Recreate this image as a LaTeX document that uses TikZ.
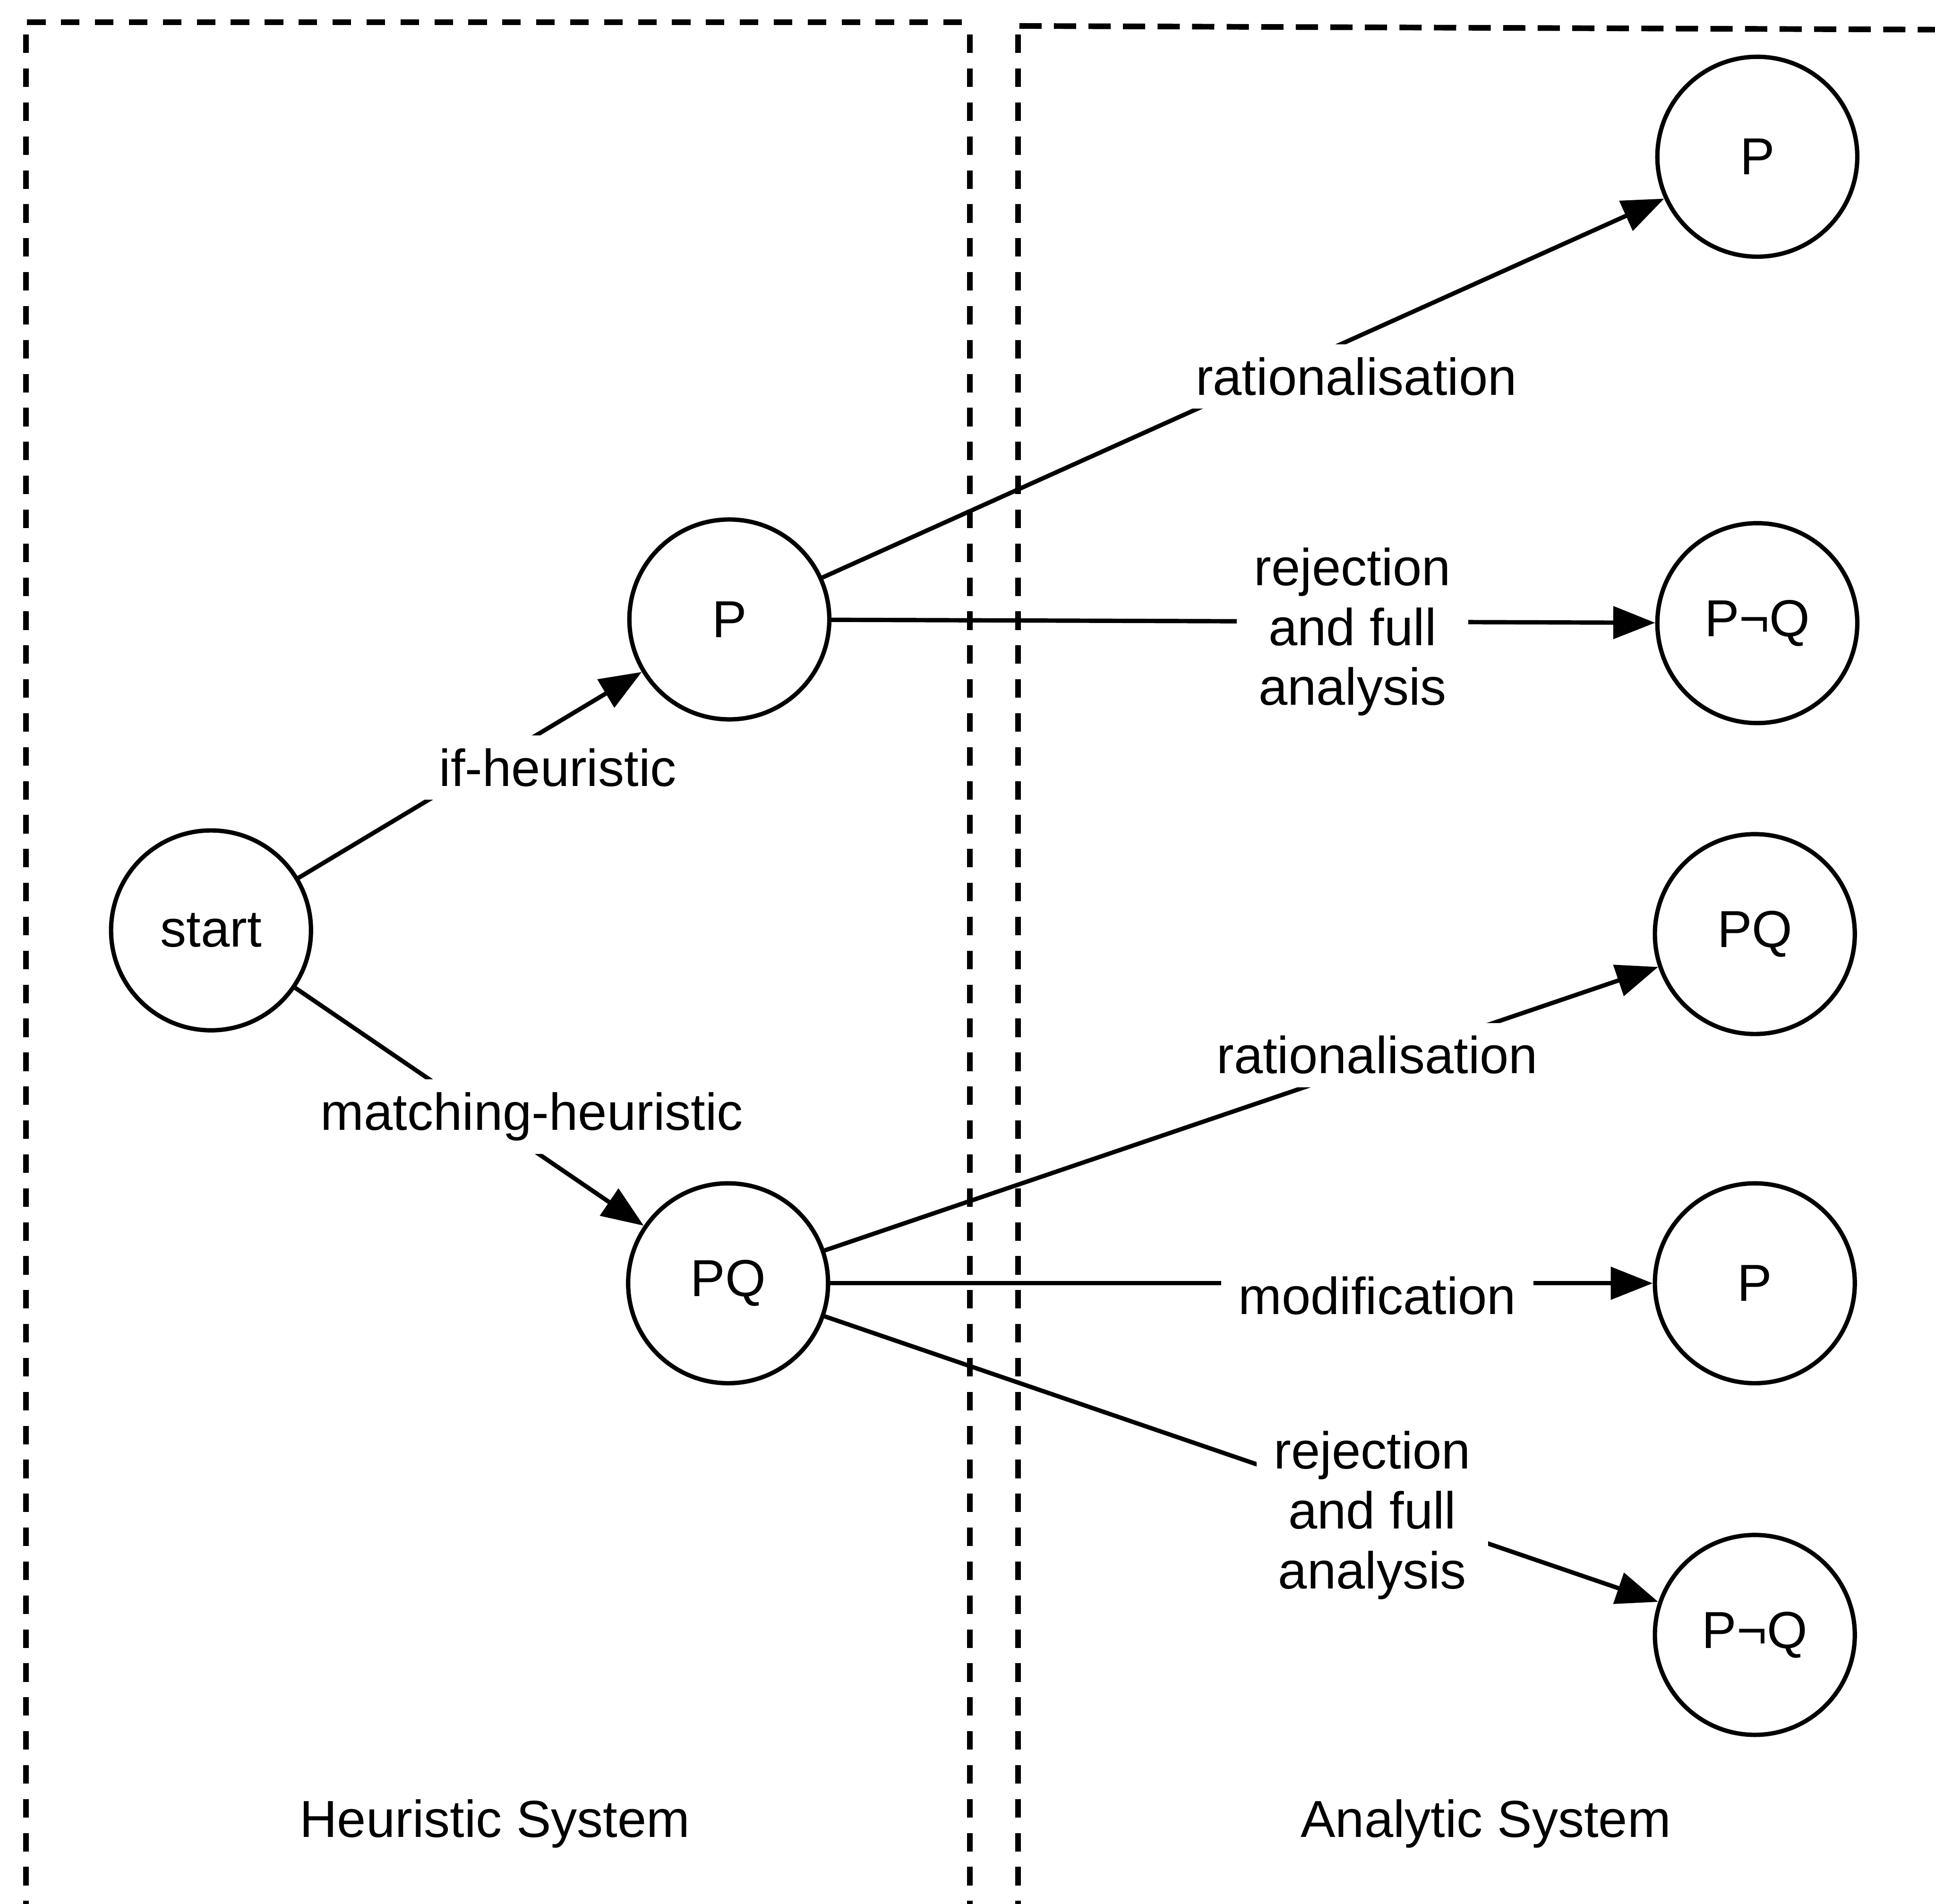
\documentclass[tikz,border=0pt]{standalone}
\usepackage{fontspec}
\setmainfont{Liberation Sans}
\usetikzlibrary{arrows.meta}
\usetikzlibrary{positioning}

\begin{document}
\begin{tikzpicture}[>={Triangle[length=3.4mm,width=2.6mm]},
        every node/.style={font=\fontsize{12}{13.8}\selectfont},
        state/.style={circle, draw, line width=1pt, minimum size=1.62cm, inner sep=0pt},
        lbl/.style={fill=white, inner sep=3pt, inner xsep=4pt, align=center},
        border/.style={line width=1.3pt, dash pattern=on 1.5mm off 1.25mm}]
        \useasboundingbox (0,0) rectangle (15.68,-15.43);

        % the two systems
        \draw[border] (0.22,-0.18) -- (7.87,-0.18);
        \draw[line width=1.3pt, dash pattern=on 1.8mm off 1mm] (8.26,-0.21) -- (15.68,-0.24);
        \foreach \x in {0.21,7.86,8.25}
        \draw[border] (\x,-0.28) -- (\x,-15.43);

        \node[state] at (1.71,-7.54) (start) {start};
        \node[state] at (5.91,-5.02) (hp) {P};
        \node[state] at (5.90,-10.40) (hpq) {PQ};

        \node[state] at (14.24,-1.27) (ap) {P};
        \node[state] at (14.24,-5.05) (apnq) {P¬Q};
        \node[state] at (14.22,-7.57) (apq) {PQ};
        \node[state] at (14.22,-10.40) (amod) {P};
        \node[state] at (14.22,-13.25) (arej) {P¬Q};

        \draw[line width=1pt,->] (start) -- (hp);
        \draw[line width=1pt,->] (start) -- (hpq);
        \draw[line width=1pt,->] (hp) -- (ap);
        \draw[line width=1pt,->] (hp) -- (apnq);
        \draw[line width=1pt,->] (hpq) -- (apq);
        \draw[line width=1pt,->] (hpq) -- (amod);
        \draw[line width=1pt,->] (hpq) -- (arej);

        \node[lbl] at (4.52,-6.22) (lif) {if-heuristic};
        \node[lbl] at (4.31,-9.05) (lmatch) {matching-heuristic};
        \node[lbl] at (10.99,-3.05) (lrat) {rationalisation};
        \node[lbl] at (10.96,-5.12) (lrej) {rejection\\and full\\analysis};
        \node[lbl] at (11.16,-8.55) (lratpq) {rationalisation};
        \node[lbl] at (11.16,-10.50) (lmod) {modification};
        \node[lbl] at (11.12,-12.28) (lrejpq) {rejection\\and full\\analysis};

        \node at (4.01,-14.78) (heur) {Heuristic System};
        \node at (12.04,-14.78) (anal) {Analytic System};
\end{tikzpicture}
\end{document}
